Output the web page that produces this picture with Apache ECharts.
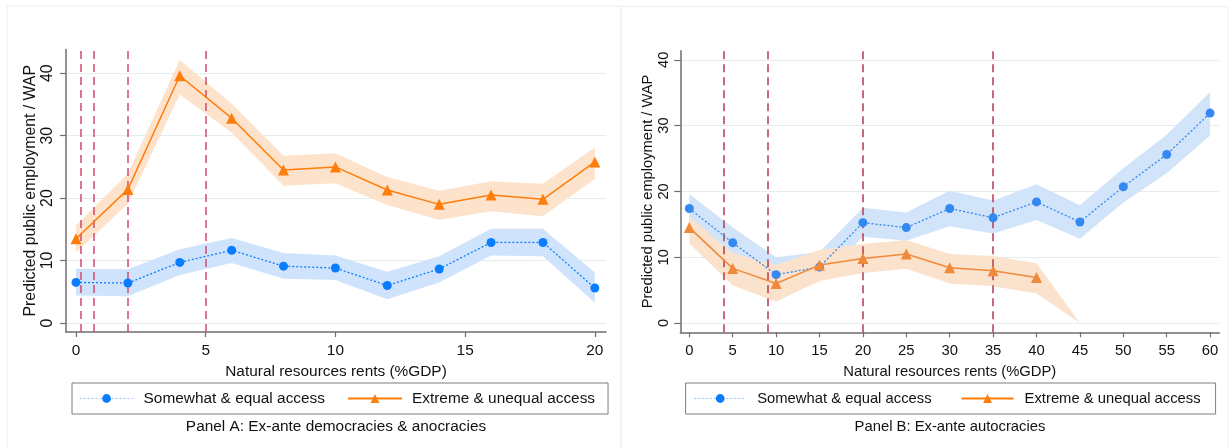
<!DOCTYPE html>
<html><head><meta charset="utf-8">
<script src="https://cdn.jsdelivr.net/npm/echarts@6/dist/echarts.min.js"></script>
<style>html,body{margin:0;padding:0;background:#fff}#c{width:1229px;height:448px}</style>
</head><body><div id="c"></div>
<script>
// ---------- Panel A data ----------
const xA = [0, 2, 4, 6, 8, 10, 12, 14, 16, 18, 20];
const blueA = [6.5, 6.4, 9.7, 11.65, 9.1, 8.8, 6.0, 8.65, 12.9, 12.9, 5.6];
const blueALo = [4.4, 4.3, 7.7, 9.6, 7.1, 6.9, 3.8, 6.5, 10.8, 10.7, 3.25];
const blueAHi = [8.7, 8.6, 11.8, 13.6, 11.2, 10.8, 8.2, 10.7, 15.1, 15.1, 8.1];
const orangeA = [13.5, 21.4, 39.6, 32.8, 24.5, 25.0, 21.3, 19.0, 20.5, 19.8, 25.8];
const orangeALo = [11.3, 19.1, 36.6, 30.5, 22.0, 22.4, 18.9, 16.5, 17.9, 17.1, 23.1];
const orangeAHi = [15.6, 23.9, 42.1, 35.1, 26.8, 27.2, 23.4, 21.2, 22.7, 22.3, 28.1];
const cutA = [0.2, 0.7, 2, 5];
const xTicksA = [0, 5, 10, 15, 20];

// ---------- Panel B data ----------
const xB = [0, 5, 10, 15, 20, 25, 30, 35, 40, 45, 50, 55, 60];
const blueB = [17.4, 12.2, 7.35, 8.5, 15.25, 14.5, 17.4, 16.0, 18.4, 15.35, 20.7, 25.6, 31.9];
const blueBLo = [15.2, 10.0, 5.0, 6.3, 13.1, 12.5, 14.7, 13.6, 15.65, 12.8, 18.3, 22.75, 28.5];
const blueBHi = [19.6, 14.5, 10.0, 10.8, 17.5, 16.8, 20.1, 18.6, 21.1, 17.9, 23.5, 28.6, 35.1];
const xBo = [0, 5, 10, 15, 20, 25, 30, 35, 40];
const orangeB = [14.5, 8.3, 6.0, 8.8, 9.8, 10.5, 8.4, 7.95, 6.9];
const xBoBand = [0, 5, 10, 15, 20, 25, 30, 35, 40, 45];
const orangeBLo = [12.1, 5.7, 3.25, 6.4, 7.6, 8.25, 6.0, 5.6, 4.5, 0];
const orangeBHi = [16.2, 10.6, 8.8, 11.1, 12.0, 12.6, 10.5, 10.2, 9.1, 0];
const cutB = [4, 9, 20, 35];
const xTicksB = [0, 5, 10, 15, 20, 25, 30, 35, 40, 45, 50, 55, 60];

const yTicks = [0, 10, 20, 30, 40];
const nameBlue = 'Somewhat & equal access';
const nameOrange = 'Extreme & unequal access';
const xTitle = 'Natural resources rents (%GDP)';
const yTitle = 'Predicted public employment / WAP';
const titleA = 'Panel A: Ex-ante democracies & anocracies';
const titleB = 'Panel B: Ex-ante autocracies';

const FF = "'Liberation Sans', Arial, Helvetica, sans-serif";
const AX = '#6e6e6e';
const GRIDC = '#e5eded';

function pairs(xs, ys) { return xs.map((x, i) => [x, ys[i]]); }
// confidence band drawn as one polygon through the axis scales
function band(id, xs, lo, hi, color, gi) {
  return {
    type: 'custom', name: id, xAxisIndex: gi, yAxisIndex: gi, silent: true, z: 2,
    data: xs.map((x, i) => [x, lo[i], hi[i]]),
    encode: { x: 0, y: [1, 2] },
    renderItem: function (params, api) {
      if (params.dataIndex !== 0) return null;
      const pts = [];
      for (let i = 0; i < xs.length; i++) pts.push(api.coord([xs[i], hi[i]]));
      for (let i = xs.length - 1; i >= 0; i--) pts.push(api.coord([xs[i], lo[i]]));
      return { type: 'polygon', shape: { points: pts }, style: { fill: color } };
    }
  };
}
function vlines(vals, color) {
  return {
    silent: true, symbol: ['none', 'none'], z: 3,
    label: { show: false },
    lineStyle: { color: color, type: [8, 5], width: 1.5 },
    data: vals.map(v => ({ xAxis: v }))
  };
}
function lineSeries(name, xs, ys, color, gi, kind, extra) {
  const blue = kind === 'blue';
  return Object.assign({
    type: 'line', name: name, xAxisIndex: gi, yAxisIndex: gi, data: pairs(xs, ys), z: blue ? 4 : 5,
    symbol: blue ? 'circle' : 'triangle', symbolSize: blue ? 9 : 11,
    itemStyle: { color: color },
    lineStyle: blue ? { color: color, type: [2, 2], width: 1.3 } : { color: color, width: 1.5 }
  }, extra || {});
}

const panels = [
  { left: 66, top: 49.5, width: 540, height: 282.5, xmin: -0.385, xmax: 20.43, ymin: -1.44, ymax: 43.8,
    xticks: xTicksA, fs: 15.4, yfs: 15.8, lblMargin: 10, nameGap: 22 },
  { left: 680.3, top: 50.7, width: 539, height: 281.6, xmin: -1.04, xmax: 61.06, ymin: -1.41, ymax: 41.38,
    xticks: xTicksB, fs: 14.8, yfs: 14.7, lblMargin: 9, nameGap: 24 }
];

const legendData = [
  { name: nameBlue, lineStyle: { color: '#a9cdf7', width: 1.2, type: [2, 2] } },
  { name: nameOrange }
];

const option = {
  animation: false,
  backgroundColor: '#fff',
  grid: panels.map(p => ({ left: p.left, top: p.top, width: p.width, height: p.height, containLabel: false })),
  xAxis: panels.map((p, i) => ({
    type: 'value', gridIndex: i, min: p.xmin, max: p.xmax,
    name: xTitle, nameLocation: 'middle', nameGap: 32,
    nameTextStyle: { fontSize: p.fs, fontFamily: FF, color: '#111' },
    axisLine: { show: true, onZero: false, lineStyle: { color: AX, width: 1.5 } },
    axisTick: { show: true, customValues: p.xticks, length: 5, lineStyle: { color: AX, width: 1.2 } },
    axisLabel: { customValues: p.xticks, margin: 11, fontSize: p.fs, fontFamily: FF, color: '#111' },
    splitLine: { show: false }
  })),
  yAxis: panels.map((p, i) => ({
    type: 'value', gridIndex: i, min: p.ymin, max: p.ymax,
    name: yTitle, nameLocation: 'middle', nameGap: p.nameGap,
    nameTextStyle: { fontSize: p.yfs, fontFamily: FF, color: '#111' },
    axisLine: { show: true, onZero: false, lineStyle: { color: AX, width: 1.5 } },
    axisTick: { show: true, customValues: yTicks, length: 6, lineStyle: { color: AX, width: 1.2 } },
    axisLabel: { customValues: yTicks, rotate: 90, margin: p.lblMargin, fontSize: p.yfs, fontFamily: FF, color: '#111' },
    splitLine: { show: true, lineStyle: { color: GRIDC, width: 1.2 } }
  })),
  legend: [
    { left: 72, top: 383, orient: 'horizontal', data: legendData,
      padding: [8, 13, 8, 7], itemWidth: 54, itemHeight: 11, itemGap: 22,
      borderColor: '#7d7d7d', borderWidth: 1, borderRadius: 0, selectedMode: false,
      textStyle: { fontSize: 15.4, fontFamily: FF, color: '#111', padding: [0, 0, 0, 5] } },
    { left: 685.6, top: 383, orient: 'horizontal', data: legendData,
      padding: [8, 15, 8, 8], itemWidth: 52, itemHeight: 11, itemGap: 29,
      borderColor: '#7d7d7d', borderWidth: 1, borderRadius: 0, selectedMode: false,
      textStyle: { fontSize: 14.8, fontFamily: FF, color: '#111', padding: [0, 0, 0, 6] } }
  ],
  graphic: [
    { type: 'rect', shape: { x: 7, y: 6, width: 614, height: 450 }, style: { fill: 'none', stroke: '#eceff0', lineWidth: 1 }, silent: true, z: -1 },
    { type: 'rect', shape: { x: 621, y: 6.5, width: 607, height: 450 }, style: { fill: 'none', stroke: '#eceff0', lineWidth: 1 }, silent: true, z: -1 },
    { type: 'text', x: 336, y: 427, style: { text: titleA, align: 'center', verticalAlign: 'middle', fontSize: 15.4, fontFamily: FF, fill: '#111' } },
    { type: 'text', x: 950, y: 427, style: { text: titleB, align: 'center', verticalAlign: 'middle', fontSize: 14.8, fontFamily: FF, fill: '#111' } }
  ],
  series: [
    band('bandBlueA', xA, blueALo, blueAHi, '#cfe4fc', 0),
    band('bandOrangeA', xA, orangeALo, orangeAHi, '#fde3cb', 0),
    lineSeries(nameBlue, xA, blueA, '#0a7dff', 0, 'blue'),
    lineSeries(nameOrange, xA, orangeA, '#ff7d0a', 0, 'orange', { markLine: vlines(cutA, '#d2496c') }),
    band('bandBlueB', xB, blueBLo, blueBHi, '#d2e4f9', 1),
    band('bandOrangeB', xBoBand, orangeBLo, orangeBHi, '#fae2cc', 1),
    lineSeries(nameBlue, xB, blueB, '#3388f2', 1, 'blue'),
    lineSeries(nameOrange, xBo, orangeB, '#f0893a', 1, 'orange', { markLine: vlines(cutB, '#b63a4e') })
  ]
};
const chart = echarts.init(document.getElementById('c'), null, { renderer: 'canvas' });
chart.setOption(option);
</script>
</body></html>
